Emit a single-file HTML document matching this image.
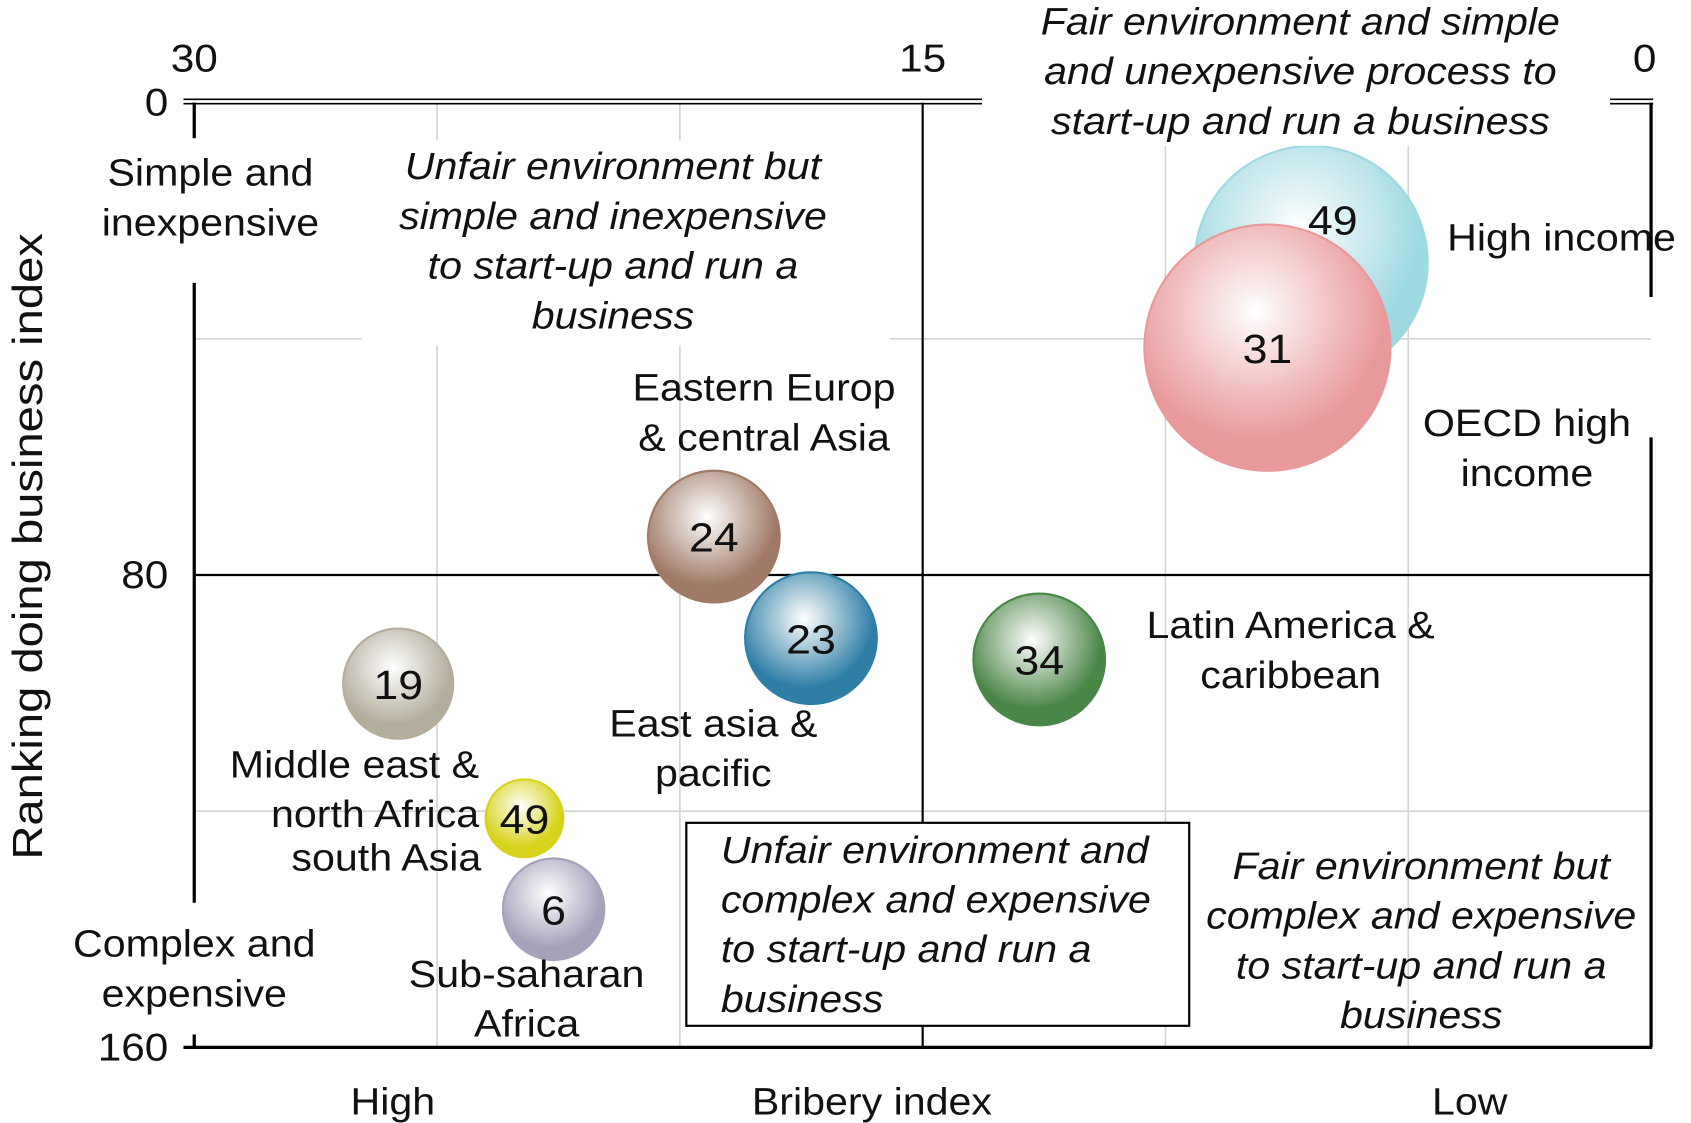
<!DOCTYPE html>
<html><head><meta charset="utf-8"><style>
html,body{margin:0;padding:0;background:#fff;}
svg{display:block;}
text{font-family:"Liberation Sans",sans-serif;fill:#111;}
.it{font-style:italic;}
</style></head><body>
<svg id="chart" width="1691" height="1123" viewBox="0 0 1567 1040" preserveAspectRatio="none" xmlns="http://www.w3.org/2000/svg">
<defs id="defs"></defs>
<g id="grid"></g>
<g id="axes"></g>
<g id="bubbles"></g>
<g id="labels"></g>
</svg>
<script>
const regions = ["High income","OECD high income","Eastern Europe & central Asia","East asia & pacific","Latin America & caribbean","Middle east & north Africa","south Asia","Sub-saharan Africa"];
const bribery = [7.0, 7.9, 19.3, 17.3, 12.6, 25.8, 23.2, 22.6];
const ranking = [27.1, 41.5, 73.5, 90.7, 94.3, 98.4, 121.2, 136.6];
const bubbleSize = [108, 114, 61, 61, 61, 51, 36, 47];
const bubbleLabel = ["49","31","24","23","34","19","49","6"];
const bubbleColor = ["#9fd9e2","#e8999a","#a07a66","#2f7ea6","#4a8646","#b3ad9c","#d7d21a","#a8a1bc"];
const xTicks = [30, 15, 0];
const yTicks = [0, 80, 160];
const xGrid = [25, 20, 10, 5];
const yGrid = [40, 120];

const NS = "http://www.w3.org/2000/svg";
const L=180, R=1530, T=95, B=970, SX=1.09;
const xs = v => L + (30 - v) / 30 * (R - L);
const ys = v => T + v / 160 * (B - T);
function mk(tag, attrs, parent){const e=document.createElementNS(NS,tag);for(const k in attrs)e.setAttribute(k,attrs[k]);parent.appendChild(e);return e;}
function stext(x,y,anchor,size,parent){return mk('text',{x:0,y:0,'text-anchor':anchor,'font-size':size,transform:'translate('+x+','+y+') scale('+SX+',1)'},parent);}
const grid=document.getElementById('grid'), axes=document.getElementById('axes'), bub=document.getElementById('bubbles'), lab=document.getElementById('labels'), defs=document.getElementById('defs');

xGrid.forEach(v=>{const g=mk('line',{x1:xs(v),x2:xs(v),y1:T,y2:B,stroke:'#d4d4d4','stroke-width':1.5},grid);

});
yGrid.forEach(v=>{const g=mk('line',{x1:L,x2:R,y1:ys(v),y2:ys(v),stroke:'#d4d4d4','stroke-width':1.5},grid);

});

let c1=mk('line',{x1:xs(15),x2:xs(15),y1:T,y2:B,stroke:'#000','stroke-width':2},axes);


let c2=mk('line',{x1:L,x2:R,y1:ys(80),y2:ys(80),stroke:'#000','stroke-width':2},axes);


let bx=mk('line',{x1:170,x2:R+1,y1:B,y2:B,stroke:'#000','stroke-width':3},axes);


let ra=mk('line',{x1:R,x2:R,y1:ys(80),y2:B,stroke:'#000','stroke-width':3},axes);



bribery.forEach((v,i)=>{
  const gr=mk('radialGradient',{id:'g'+i,cx:'0.45',cy:'0.35',r:'0.7'},defs);
  mk('stop',{offset:'0','stop-color':'#ffffff'},gr);
  mk('stop',{offset:'0.75','stop-color':bubbleColor[i]},gr);
  mk('stop',{offset:'1','stop-color':bubbleColor[i]},gr);
  const c=mk('circle',{cx:xs(v),cy:ys(ranking[i]),r:bubbleSize[i],fill:'url(#g'+i+')',stroke:bubbleColor[i],'stroke-width':2},bub);
  
  
});
bribery.forEach((v,i)=>{
  const dy = i===0 ? -bubbleSize[i]*0.37 : 0;
  const dx = i===0 ? 20 : 0;
  const t=stext(xs(v)+dx,ys(ranking[i])+dy+14,'middle',38,bub);
  
  
  t.textContent=bubbleLabel[i];
});

[[175,118,16,140],[335,130,490,190],[910,0,582,135],[1500,100,60,170],[175,840,16,118]].forEach(r=>{
 const m=mk('rect',{x:r[0],y:r[1],width:r[2],height:r[3],fill:'#fff'},lab);
 
 
});
[[T,128],[262,836],[958,B]].forEach(s=>{
 const a=mk('line',{x1:L,x2:L,y1:s[0],y2:s[1],stroke:'#000','stroke-width':3},lab);
 
 
});
let ra2=mk('line',{x1:R,x2:R,y1:T,y2:275,stroke:'#000','stroke-width':3},lab);


let ra3=mk('line',{x1:R,x2:R,y1:405,y2:ys(80),stroke:'#000','stroke-width':3},lab);


[[170,910],[1492,R+2]].forEach(s=>{
 const a=mk('line',{x1:s[0],x2:s[1],y1:T-3,y2:T-3,stroke:'#000','stroke-width':1.5},lab);
 
 
 const b=mk('line',{x1:s[0],x2:s[1],y1:T+1,y2:T+1,stroke:'#000','stroke-width':1.5},lab);
 
 
});

xTicks.forEach(v=>{const t=stext(xs(v)-(v===0?6:0),66,'middle',36,lab);


t.textContent=v;});
yTicks.forEach(v=>{const t=stext(156,ys(v)+12,'end',36,lab);


t.textContent=v;});

let bxr=mk('rect',{x:636,y:762,width:466,height:188,fill:'#fff',stroke:'#000','stroke-width':2},lab);



function txt(lines,x,y,anchor,italic,name,lh){
 lines.forEach((s,i)=>{const t=stext(x,y+i*(lh||46),anchor,35,lab);
 if(italic)t.setAttribute('class','it');
 
 
 t.textContent=s;});
}
txt(["Fair environment and simple","and unexpensive process to","start-up and run a business"],1205,32,'middle',true,'quadrant-label-top-right');
txt(["Unfair environment but","simple and inexpensive","to start-up and run a","business"],568,166,'middle',true,'quadrant-label-top-left');
txt(["Unfair environment and","complex and expensive","to start-up and run a","business"],668,799,'start',true,'quadrant-label-bottom-left');
txt(["Fair environment but","complex and expensive","to start-up and run a","business"],1317,814,'middle',true,'quadrant-label-bottom-right');
txt(["Simple and","inexpensive"],195,172,'middle',false,'y-high-label');
txt(["Complex and","expensive"],180,886,'middle',false,'y-low-label');
txt(["High income"],1447,232,'middle',false,'region-label');
txt(["OECD high","income"],1415,404,'middle',false,'region-label');
txt(["Eastern Europ","& central Asia"],708,371,'middle',false,'region-label');
txt(["East asia &","pacific"],661,682,'middle',false,'region-label');
txt(["Latin America &","caribbean"],1196,591,'middle',false,'region-label');
txt(["Middle east &","north Africa"],444,720,'end',false,'region-label');
txt(["south Asia"],446,806,'end',false,'region-label');
txt(["Sub-saharan","Africa"],488,914,'middle',false,'region-label');
txt(["High"],364,1032,'middle',false,'x-high-label');
txt(["Bribery index"],808,1032,'middle',false,'x-axis-title');
txt(["Low"],1362,1032,'middle',false,'x-low-label');
const yt=mk('text',{x:0,y:0,'text-anchor':'middle','font-size':39,transform:'translate(39,506) rotate(-90) scale(1.12,1)'},lab);


yt.textContent='Ranking doing business index';
</script>
</body></html>
